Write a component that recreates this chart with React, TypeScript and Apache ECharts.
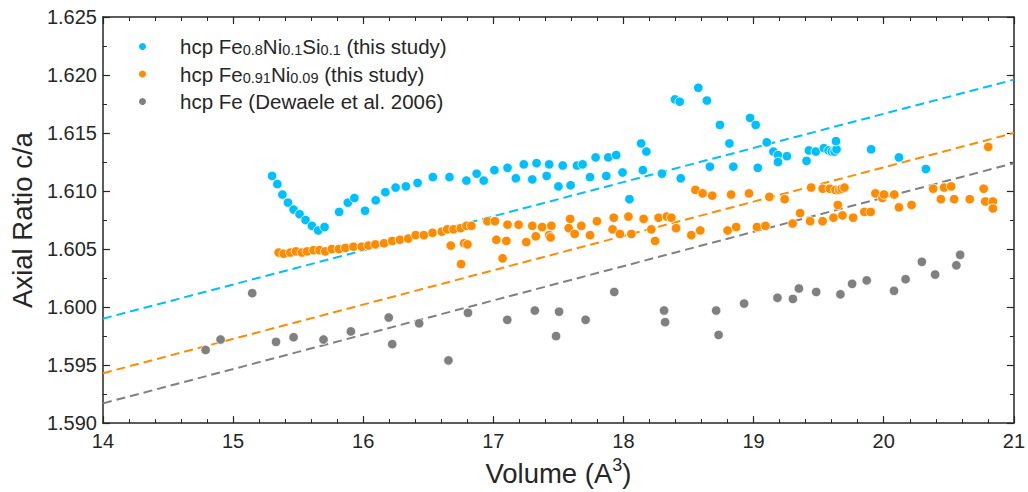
import React, { useEffect, useRef } from "react";
import * as echarts from "echarts";

// hcp Fe0.8Ni0.1Si0.1 (this study): [volume, c/a]
const feNiSi: [number, number][] = [
  [15.30, 1.6113], [15.34, 1.6106], [15.379, 1.6097], [15.422, 1.6090], [15.465, 1.6084],
  [15.511, 1.6080], [15.557, 1.6075], [15.606, 1.6070], [15.654, 1.6066], [15.703, 1.6069],
  [15.815, 1.6082], [15.882, 1.6090], [15.932, 1.6094], [16.014, 1.6083], [16.096, 1.6092],
  [16.170, 1.6099], [16.249, 1.6103], [16.328, 1.6104], [16.418, 1.6107], [16.535, 1.6112],
  [16.663, 1.6112], [16.793, 1.6109], [16.872, 1.6115], [16.926, 1.6109], [17.008, 1.6118],
  [17.109, 1.6120], [17.173, 1.6111], [17.234, 1.6123], [17.299, 1.6110], [17.332, 1.6124],
  [17.410, 1.6113], [17.429, 1.6123], [17.500, 1.6104], [17.533, 1.6122], [17.594, 1.6105],
  [17.643, 1.6122], [17.686, 1.6123], [17.743, 1.6112], [17.786, 1.6129], [17.868, 1.6113],
  [17.883, 1.6129], [17.944, 1.6131], [17.993, 1.6116], [18.046, 1.6093], [18.136, 1.6141],
  [18.176, 1.6134], [18.149, 1.6118], [18.296, 1.6115], [18.396, 1.6179], [18.432, 1.6177],
  [18.440, 1.6111], [18.575, 1.6189], [18.641, 1.6178], [18.664, 1.6121], [18.741, 1.6157],
  [18.814, 1.6141], [18.844, 1.6121], [18.973, 1.6163], [19.016, 1.6157], [19.032, 1.6120],
  [19.101, 1.6142], [19.152, 1.6134], [19.187, 1.6131], [19.187, 1.6125], [19.256, 1.6130],
  [19.407, 1.6126], [19.425, 1.6135], [19.478, 1.6134], [19.540, 1.6137], [19.576, 1.6135],
  [19.601, 1.6134], [19.622, 1.6134], [19.637, 1.6136], [19.633, 1.6143], [19.903, 1.6136],
  [20.117, 1.6129], [20.324, 1.6119],
];

// hcp Fe0.91Ni0.09 (this study)
const feNi: [number, number][] = [
  [15.350, 1.6047], [15.389, 1.6046], [15.440, 1.6047], [15.483, 1.6048], [15.529, 1.6047],
  [15.568, 1.6048], [15.618, 1.6049], [15.664, 1.6049], [15.708, 1.6048], [15.759, 1.6050],
  [15.813, 1.6050], [15.863, 1.6051], [15.925, 1.6052], [15.989, 1.6052], [16.040, 1.6053],
  [16.093, 1.6054], [16.160, 1.6055], [16.223, 1.6057], [16.282, 1.6058], [16.346, 1.6059],
  [16.403, 1.6062], [16.466, 1.6062], [16.533, 1.6064], [16.604, 1.6065], [16.645, 1.6067],
  [16.694, 1.6067], [16.750, 1.6068], [16.793, 1.6070], [16.831, 1.6070],
  [16.954, 1.6074], [17.012, 1.6074], [17.109, 1.6071], [17.194, 1.6071], [17.299, 1.6070],
  [17.375, 1.6069], [17.446, 1.6070], [17.590, 1.6076], [17.676, 1.6070], [17.796, 1.6074],
  [17.925, 1.6077], [18.038, 1.6078], [18.155, 1.6076], [18.270, 1.6077], [18.333, 1.6078],
  [18.368, 1.6077],
  [16.673, 1.6053], [16.775, 1.6055], [16.801, 1.6054], [16.752, 1.6037], [17.023, 1.6058],
  [17.100, 1.6057], [17.071, 1.6042], [17.253, 1.6056], [17.326, 1.6061], [17.429, 1.6062],
  [17.440, 1.6060], [17.579, 1.6068], [17.625, 1.6063], [17.743, 1.6062], [17.916, 1.6067],
  [17.973, 1.6063], [18.061, 1.6063], [18.214, 1.6067], [18.243, 1.6057], [18.404, 1.6068],
  [18.521, 1.6062], [18.590, 1.6066], [18.800, 1.6066], [18.866, 1.6069], [19.026, 1.6069],
  [19.091, 1.6070], [19.300, 1.6072], [19.357, 1.6081], [19.434, 1.6074], [19.530, 1.6074],
  [19.614, 1.6077], [19.683, 1.6079], [19.765, 1.6077], [19.851, 1.6082], [19.900, 1.6082],
  [18.553, 1.6101], [18.608, 1.6098], [18.682, 1.6096], [18.827, 1.6097], [18.965, 1.6098],
  [19.121, 1.6095], [19.239, 1.6093], [19.442, 1.6103], [19.531, 1.6102], [19.586, 1.6102],
  [19.629, 1.6101], [19.658, 1.6101], [19.677, 1.6102], [19.698, 1.6103], [19.647, 1.6088],
  [19.936, 1.6098], [19.989, 1.6094], [20.002, 1.6097], [20.081, 1.6097], [20.117, 1.6086],
  [20.214, 1.6088], [20.380, 1.6102], [20.464, 1.6103], [20.518, 1.6104], [20.439, 1.6093],
  [20.541, 1.6093], [20.661, 1.6093], [20.768, 1.6102], [20.780, 1.6091], [20.839, 1.6091],
  [20.839, 1.6085], [20.803, 1.6138],
];

// hcp Fe (Dewaele et al. 2006)
const feDewaele: [number, number][] = [
  [14.789, 1.5963], [14.904, 1.5972], [15.147, 1.6012], [15.330, 1.5970], [15.465, 1.5974],
  [15.695, 1.5972], [15.905, 1.5979], [16.196, 1.5991], [16.223, 1.5968], [16.430, 1.5986],
  [16.655, 1.5954], [16.805, 1.5995], [17.107, 1.5989], [17.319, 1.5997], [17.505, 1.5996],
  [17.482, 1.5975], [17.709, 1.5989], [17.929, 1.6013], [18.312, 1.5997], [18.320, 1.5987],
  [18.712, 1.5997], [18.731, 1.5976], [18.927, 1.6003], [19.183, 1.6008], [19.302, 1.6007],
  [19.348, 1.6016], [19.481, 1.6013], [19.667, 1.6011], [19.757, 1.6020], [19.869, 1.6023],
  [20.079, 1.6014], [20.168, 1.6024], [20.293, 1.6039], [20.395, 1.6028], [20.558, 1.6036],
  [20.587, 1.6045],
];

// dashed trend lines: endpoints at x = 14 and x = 21
const fitX = [14, 21];
const fitFeNiSi = [1.5990, 1.6196];
const fitFeNi = [1.5943, 1.6150];
const fitFe = [1.5917, 1.6124];

const xTicks = { min: 14, max: 21, interval: 1 };
const yTicks = { min: 1.59, max: 1.625, interval: 0.005 };

const BLUE = "#00BFFF";
const ORANGE = "#FF8C00";
const GRAY = "#808080";
const AXIS = "#262626";
const FONT = "Liberation Sans, Arial, sans-serif";

const rich = {
  g: { width: 28, fontSize: 20, fontFamily: FONT },
  n: { fontSize: 20.5, fontFamily: FONT, color: AXIS, lineHeight: 22, verticalAlign: "middle" },
  s: { fontSize: 14.5, fontFamily: FONT, color: AXIS, verticalAlign: "bottom", lineHeight: 14 },
};

const legendLabels: Record<string, string> = {
  feNiSi: "{g|}{n|hcp Fe}{s|0.8}{n|Ni}{s|0.1}{n|Si}{s|0.1}{n| (this study)}",
  feNi: "{g|}{n|hcp Fe}{s|0.91}{n|Ni}{s|0.09}{n| (this study)}",
  feDewaele: "{g|}{n|hcp Fe (Dewaele et al. 2006)}",
};

export default function App() {
  const ref = useRef<HTMLDivElement>(null);
  useEffect(() => {
    if (!ref.current) return;
    const chart = echarts.init(ref.current, undefined, { renderer: "svg" });
    const axisLine = { show: true, lineStyle: { color: AXIS, width: 1.5 } };
    const line = (name: string, ys: number[], color: string) => ({
      name,
      type: "line",
      data: fitX.map((x, i) => [x, ys[i]]),
      showSymbol: false,
      symbol: "none",
      lineStyle: { color, width: 2, type: [9, 5] },
      z: 1,
      silent: true,
    });
    const scatter = (name: string, data: [number, number][], color: string) => ({
      name,
      type: "scatter",
      data,
      symbol: "circle",
      symbolSize: 9.5,
      itemStyle: { color, borderColor: "#ffffff", borderWidth: 0.8, opacity: 1 },
      z: 3,
    });
    chart.setOption({
      animation: false,
      backgroundColor: "#ffffff",
      grid: { left: 102, right: 12, top: 17, bottom: 59, containLabel: false },
      legend: {
        data: ["feNiSi", "feNi", "feDewaele"],
        orient: "vertical",
        left: 132,
        top: 31,
        itemGap: 6,
        icon: "circle",
        itemWidth: 9,
        itemHeight: 9,
        formatter: (n: string) => legendLabels[n],
        textStyle: { rich, fontFamily: FONT, fontSize: 20, color: AXIS },
      },
      xAxis: [
        {
          type: "value",
          position: "bottom",
          ...xTicks,
          axisLine,
          axisTick: { show: true, inside: true, length: 7, lineStyle: { color: AXIS, width: 1.2 } },
          minorTick: { show: true, splitNumber: 5, length: 4, lineStyle: { color: AXIS, width: 1 } },
          splitLine: { show: false },
          axisLabel: { fontSize: 20, color: AXIS, fontFamily: FONT, margin: 8 },
          name: "{a|Volume (A}{sup|3}{a|)}",
          nameLocation: "middle",
          nameGap: 32,
          nameTextStyle: {
            rich: {
              a: { fontSize: 27.5, fontFamily: FONT, color: AXIS, lineHeight: 31, verticalAlign: "bottom" },
              sup: { fontSize: 18, fontFamily: FONT, color: AXIS, verticalAlign: "top", lineHeight: 31 },
            },
          },
        },
        {
          type: "value",
          position: "top",
          ...xTicks,
          axisLine,
          axisTick: { show: true, inside: true, length: 7, lineStyle: { color: AXIS, width: 1.2 } },
          minorTick: { show: true, splitNumber: 5, length: 4, lineStyle: { color: AXIS, width: 1 } },
          splitLine: { show: false },
          axisLabel: { show: false },
        },
      ],
      yAxis: [
        {
          type: "value",
          position: "left",
          ...yTicks,
          axisLine,
          axisTick: { show: true, inside: true, length: 7, lineStyle: { color: AXIS, width: 1.2 } },
          minorTick: { show: true, splitNumber: 2, length: 4, lineStyle: { color: AXIS, width: 1 } },
          splitLine: { show: false },
          axisLabel: {
            fontSize: 20,
            color: AXIS,
            fontFamily: FONT,
            margin: 6,
            formatter: (v: number) => v.toFixed(3),
          },
          name: "Axial Ratio c/a",
          nameLocation: "middle",
          nameGap: 60,
          nameTextStyle: { fontSize: 27.5, fontFamily: FONT, color: AXIS },
        },
        {
          type: "value",
          position: "right",
          ...yTicks,
          axisLine,
          axisTick: { show: true, inside: true, length: 7, lineStyle: { color: AXIS, width: 1.2 } },
          minorTick: { show: true, splitNumber: 2, length: 4, lineStyle: { color: AXIS, width: 1 } },
          splitLine: { show: false },
          axisLabel: { show: false },
        },
      ],
      series: [
        line("fitFeNiSi", fitFeNiSi, BLUE),
        line("fitFeNi", fitFeNi, ORANGE),
        line("fitFe", fitFe, GRAY),
        scatter("feNiSi", feNiSi, BLUE),
        scatter("feNi", feNi, ORANGE),
        scatter("feDewaele", feDewaele, GRAY),
      ],
    });
    return () => chart.dispose();
  }, []);
  return (
    <div
      ref={ref}
      style={{ position: "fixed", left: 0, top: 0, width: 1028, height: 492 }}
    />
  );
}
